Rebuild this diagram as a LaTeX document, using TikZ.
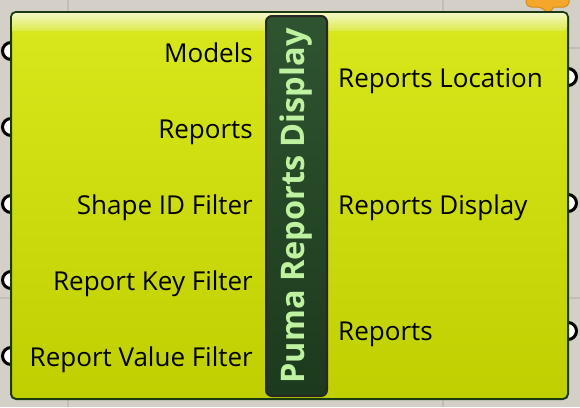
\documentclass[tikz,border=0pt]{standalone}
\usepackage{fontspec}
\setmainfont{Open Sans}
\usetikzlibrary{shapes.geometric, positioning}
\definecolor{GHBack}{HTML}{D4D0C8}
\definecolor{GHGrid}{HTML}{C2BEB6}
\definecolor{GHEdge}{HTML}{1B3A12}
\definecolor{GHTop}{HTML}{D8E81C}
\definecolor{GHBot}{HTML}{BFCF00}
\definecolor{GHShine}{HTML}{F2F7C4}
\definecolor{GHShineB}{HTML}{DDEA48}
\definecolor{GHBar}{HTML}{2F5430}
\definecolor{GHBarB}{HTML}{1C3A1D}
\definecolor{GHTitle}{HTML}{BFF2A0}
\definecolor{GHBalloon}{HTML}{F4A72A}
\definecolor{GHBalloonB}{HTML}{D98A12}
\tikzstyle{component} = [rectangle, rounded corners=5pt, minimum width=557pt, minimum height=387pt, draw=GHEdge, line width=2pt, top color=GHTop, bottom color=GHBot, inner sep=0pt]
\tikzstyle{titlebar} = [rectangle, rounded corners=6pt, minimum width=61pt, minimum height=380pt, draw=black!85, line width=2pt, top color=GHBar, bottom color=GHBarB, inner sep=0pt]
\tikzstyle{grip} = [circle, minimum size=17pt, inner sep=0pt, draw=black, line width=3pt, fill=white]
\tikzstyle{input} = [anchor=base east, inner sep=0pt, font=\fontsize{26}{30}\selectfont]
\tikzstyle{output} = [anchor=base west, inner sep=0pt, font=\fontsize{26}{30}\selectfont]
\tikzstyle{gridline} = [GHGrid, line width=2pt]

\begin{document}
\begin{tikzpicture}[x=1pt, y=-1pt]

\useasboundingbox (0,0) rectangle (580,407);
\fill [GHBack] (0,0) rectangle (580,407);

% canvas grid
\draw [gridline] (68,0) -- (68,407);
\draw [gridline] (443,0) -- (443,407);
\draw [gridline] (0,48) -- (580,48);
\draw [gridline] (0,298) -- (580,298);

% grips
\node (gi1) [grip] at (11,51) {};
\node (gi2) [grip] at (11,127) {};
\node (gi3) [grip] at (11,204) {};
\node (gi4) [grip] at (11,280) {};
\node (gi5) [grip] at (11,356) {};
\node (go1) [grip] at (568,77) {};
\node (go2) [grip] at (568,203) {};
\node (go3) [grip] at (568,331) {};

% balloon
\filldraw [fill=GHBalloon, draw=GHBalloonB, line width=1pt, rounded corners=5pt]
  (526,-10) -- (526,7) -- (542,7) [sharp corners] -- (548,14) -- (554,7) [rounded corners=5pt] -- (569,7) -- (569,-10) -- cycle;

% body
\node (comp) [component] at (289.5,205.5) {};
\shade [top color=GHShine, bottom color=GHShineB, rounded corners=4pt]
  (12,31) -- (12,13) -- (567,13) -- (567,31) [sharp corners] -- cycle;

\node (bar) [titlebar] at (296.5,206) {};
\node (title) [rotate=90, text=GHTitle, font=\fontsize{32.5}{36}\selectfont\bfseries] at (bar.center) {Puma Reports Display};

% inputs
\node (models) [input] at (253,62) {Models};
\node (reports) [input] at (253,138) {Reports};
\node (shapeid) [input] at (253,214.5) {Shape ID Filter};
\node (repkey) [input] at (253,290.5) {Report Key Filter};
\node (repval) [input] at (253,366) {Report Value Filter};

% outputs
\node (loc) [output] at (338,87) {Reports Location};
\node (disp) [output] at (338,214) {Reports Display};
\node (reps) [output] at (338,340) {Reports};

\end{tikzpicture}
\end{document}
